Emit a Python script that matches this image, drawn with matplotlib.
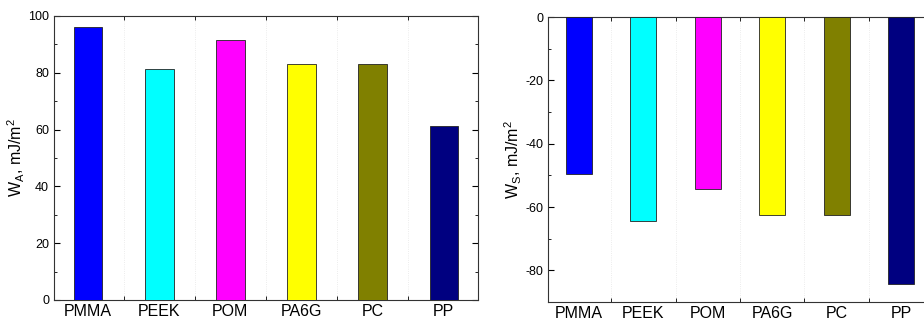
import matplotlib.pyplot as plt
from matplotlib.ticker import MultipleLocator

plt.rcParams['font.family'] = ['Liberation Sans', 'DejaVu Sans']
plt.rcParams['mathtext.fontset'] = 'custom'
plt.rcParams['mathtext.rm'] = 'Liberation Sans'
plt.rcParams['axes.unicode_minus'] = False

materiais = ['PMMA', 'PEEK', 'POM', 'PA6G', 'PC', 'PP']
w_a = [96.0, 81.2, 91.5, 83.2, 83.2, 61.2]
w_s = [-49.5, -64.3, -54.2, -62.4, -62.4, -84.4]
cores = ['#0000ff', '#00ffff', '#ff00ff', '#ffff00', '#808000', '#000080']

fig = plt.figure(figsize=(9.24, 3.2), dpi=100)
ax1 = fig.add_axes([54/924, 1 - 300/320, (478-54)/924, (300-16)/320])
ax2 = fig.add_axes([548/924, 1 - 302/320, (932-548)/924, (302-17)/320])


def desenhar(ax, valores, ylim, major, minor, label):
    x = range(len(materiais))
    ax.bar(x, valores, width=0.4, color=cores, edgecolor='#222222', linewidth=0.6, zorder=3)
    ax.set_xlim(-0.48, len(materiais) - 0.52)
    ax.set_ylim(*ylim)
    ax.set_xticks(list(x))
    ax.set_xticklabels(materiais, fontsize=11.5)
    ax.set_xticks([i + 0.5 for i in range(len(materiais) - 1)], minor=True)
    ax.tick_params(axis='x', which='major', length=0, pad=3)
    ax.tick_params(axis='x', which='minor', direction='in', length=3, top=True)
    ax.grid(axis='x', which='minor', color='#e6e6e6', linestyle=':', linewidth=0.6, zorder=0)
    ax.yaxis.set_major_locator(MultipleLocator(major))
    ax.yaxis.set_minor_locator(MultipleLocator(minor))
    ax.tick_params(axis='y', which='both', direction='in', right=True, labelsize=9)
    ax.tick_params(axis='y', which='major', length=4)
    ax.tick_params(axis='y', which='minor', length=2)
    ax.set_ylabel(label, fontsize=11.5, labelpad=1)
    for s in ax.spines.values():
        s.set_linewidth(0.8)
        s.set_color('#333333')


desenhar(ax1, w_a, (0, 100), 20, 10, r'W$_{\mathrm{A}}$, mJ/m$^{\mathrm{2}}$')
desenhar(ax2, w_s, (-90, 0), 20, 10, r'W$_{\mathrm{S}}$, mJ/m$^{\mathrm{2}}$')

fig.savefig('out.png', dpi=100)
